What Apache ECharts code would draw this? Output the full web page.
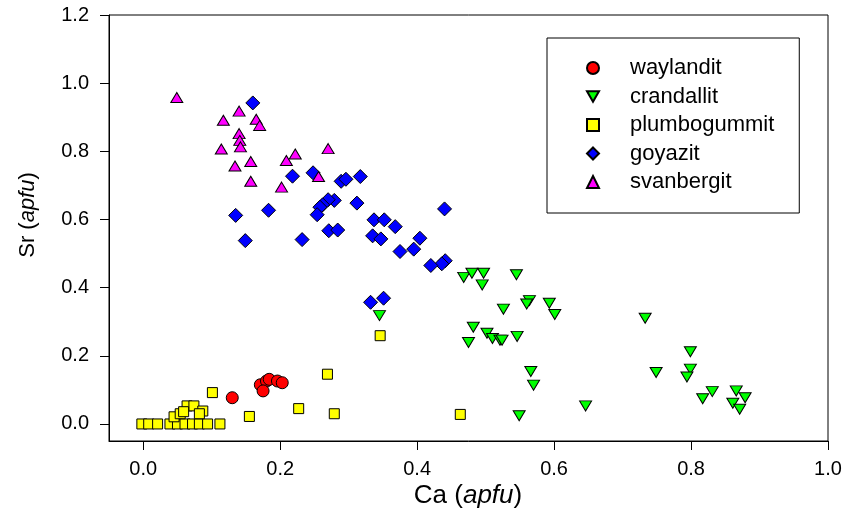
<!DOCTYPE html>
<html>
<head>
<meta charset="utf-8">
<script src="https://cdn.jsdelivr.net/npm/echarts@6/dist/echarts.min.js"></script>
<style>
  html, body { margin: 0; padding: 0; background: #fff; }
  #chart { width: 845px; height: 510px; }
</style>
</head>
<body>
<div id="chart"></div>
<script>
// 数据 (Ca, Sr) apfu
var waylandit = [
    [0.130, 0.077], [0.171, 0.115], [0.180, 0.126], [0.184, 0.131],
    [0.175, 0.097], [0.196, 0.126], [0.203, 0.121]
];
var crandallit = [
    [0.468, 0.430], [0.480, 0.442], [0.497, 0.442], [0.495, 0.408], [0.545, 0.438],
    [0.564, 0.362], [0.560, 0.352], [0.593, 0.354], [0.601, 0.321], [0.526, 0.337],
    [0.733, 0.310], [0.482, 0.284], [0.502, 0.266], [0.510, 0.251], [0.521, 0.246],
    [0.524, 0.246], [0.475, 0.239], [0.546, 0.257], [0.799, 0.212], [0.566, 0.154],
    [0.570, 0.114], [0.749, 0.151], [0.799, 0.161], [0.794, 0.138], [0.831, 0.095],
    [0.817, 0.074], [0.866, 0.097], [0.879, 0.077], [0.861, 0.061], [0.871, 0.043],
    [0.646, 0.053], [0.549, 0.024], [0.345, 0.318]
];
var plumbogummit = [
    [-0.002, 0.0], [0.008, 0.0], [0.021, 0.0], [0.039, 0.0], [0.050, 0.0],
    [0.061, 0.0], [0.072, 0.0], [0.082, 0.0], [0.094, 0.0], [0.112, 0.0],
    [0.064, 0.053], [0.074, 0.053], [0.087, 0.038], [0.082, 0.030], [0.045, 0.021],
    [0.054, 0.030], [0.059, 0.036], [0.101, 0.092], [0.155, 0.022], [0.227, 0.045],
    [0.269, 0.146], [0.279, 0.030], [0.463, 0.028], [0.346, 0.259]
];
var goyazit = [
    [0.160, 0.942], [0.218, 0.727], [0.248, 0.737], [0.289, 0.712], [0.296, 0.718],
    [0.317, 0.726], [0.183, 0.627], [0.135, 0.612], [0.279, 0.656], [0.270, 0.658],
    [0.262, 0.643], [0.258, 0.636], [0.254, 0.614], [0.312, 0.648], [0.271, 0.567],
    [0.284, 0.569], [0.149, 0.538], [0.232, 0.541], [0.440, 0.631], [0.337, 0.599],
    [0.352, 0.599], [0.368, 0.579], [0.335, 0.552], [0.347, 0.543], [0.404, 0.545],
    [0.395, 0.513], [0.375, 0.506], [0.441, 0.479], [0.436, 0.470], [0.420, 0.465],
    [0.351, 0.369], [0.332, 0.357]
];
var svanbergit = [
    [0.049, 0.958], [0.140, 0.918], [0.117, 0.891], [0.165, 0.894], [0.170, 0.876],
    [0.140, 0.852], [0.141, 0.832], [0.142, 0.813], [0.114, 0.807], [0.270, 0.808],
    [0.222, 0.792], [0.209, 0.773], [0.157, 0.770], [0.134, 0.757], [0.256, 0.726],
    [0.157, 0.712], [0.202, 0.695]
];
var xTicks = [0, 0.2, 0.4, 0.6, 0.8, 1.0];
var yTicks = [0, 0.2, 0.4, 0.6, 0.8, 1.0, 1.2];

var FONT = 'Liberation Sans, Arial, sans-serif';
var downTri = 'path://M0,0L10,0L5,8.66Z';

var chart = echarts.init(document.getElementById('chart'));

function pointSeries(name, data, symbol, size, color) {
    return {
        name: name,
        type: 'scatter',
        data: data,
        symbol: symbol,
        symbolSize: size,
        itemStyle: { color: color, borderColor: '#000', borderWidth: 1, opacity: 1 },
        emphasis: { disabled: true }
    };
}

function axisTitle(label, fontSize) {
    return {
        text: '{n|' + label + ' (}{i|apfu}{n|)}',
        align: 'center', verticalAlign: 'middle',
        rich: {
            n: { fontFamily: FONT, fontSize: fontSize, fill: '#000' },
            i: { fontFamily: FONT, fontSize: fontSize, fontStyle: 'italic', fill: '#000' }
        }
    };
}

var option = {
    animation: false,
    backgroundColor: '#fff',
    grid: {
        left: 109, right: 17, top: 15, bottom: 69,
        show: true, borderColor: '#000', borderWidth: 1
    },
    legend: {
        orient: 'vertical',
        left: 547, top: 38,
        padding: [19, 25, 20, 39],
        itemWidth: 12, itemHeight: 12,
        itemGap: 6.5,
        borderColor: '#000', borderWidth: 1,
        textStyle: { fontFamily: FONT, fontSize: 22, color: '#000', padding: [0, 0, 0, 26] },
        data: [
            { name: 'waylandit', icon: 'circle' },
            { name: 'crandallit', icon: downTri },
            { name: 'plumbogummit', icon: 'rect' },
            { name: 'goyazit', icon: 'diamond' },
            { name: 'svanbergit', icon: 'triangle' }
        ],
        selectedMode: false
    },
    xAxis: {
        type: 'value',
        min: -0.05, max: 1.0,
        splitLine: { show: false },
        axisLine: { onZero: false, lineStyle: { color: '#000', width: 1 } },
        axisTick: { show: true, length: 9, inside: false, customValues: xTicks, lineStyle: { color: '#000' } },
        axisLabel: {
            customValues: xTicks, margin: 18,
            fontFamily: FONT, fontSize: 20, color: '#000',
            formatter: function (v) { return v.toFixed(1); }
        }
    },
    yAxis: {
        type: 'value',
        min: -0.05, max: 1.2,
        splitLine: { show: false },
        axisLine: { onZero: false, lineStyle: { color: '#000', width: 1 } },
        axisTick: { show: true, length: 9, inside: false, customValues: yTicks, lineStyle: { color: '#000' } },
        axisLabel: {
            customValues: yTicks, margin: 20,
            fontFamily: FONT, fontSize: 20, color: '#000',
            formatter: function (v) { return v.toFixed(1); }
        }
    },
    graphic: [
        { type: 'text', x: 468, y: 496, style: axisTitle('Ca', 26) },
        { type: 'text', x: 28, y: 215, rotation: Math.PI / 2, style: axisTitle('Sr', 22) }
    ],
    series: [
        pointSeries('waylandit', waylandit, 'circle', 12, '#ff0000'),
        pointSeries('crandallit', crandallit, downTri, [12, 10], '#00ff00'),
        pointSeries('plumbogummit', plumbogummit, 'rect', 10, '#ffff00'),
        pointSeries('goyazit', goyazit, 'diamond', 14, '#0000ff'),
        pointSeries('svanbergit', svanbergit, 'triangle', [12, 10], '#ff00ff')
    ]
};
chart.setOption(option);
</script>
</body>
</html>
